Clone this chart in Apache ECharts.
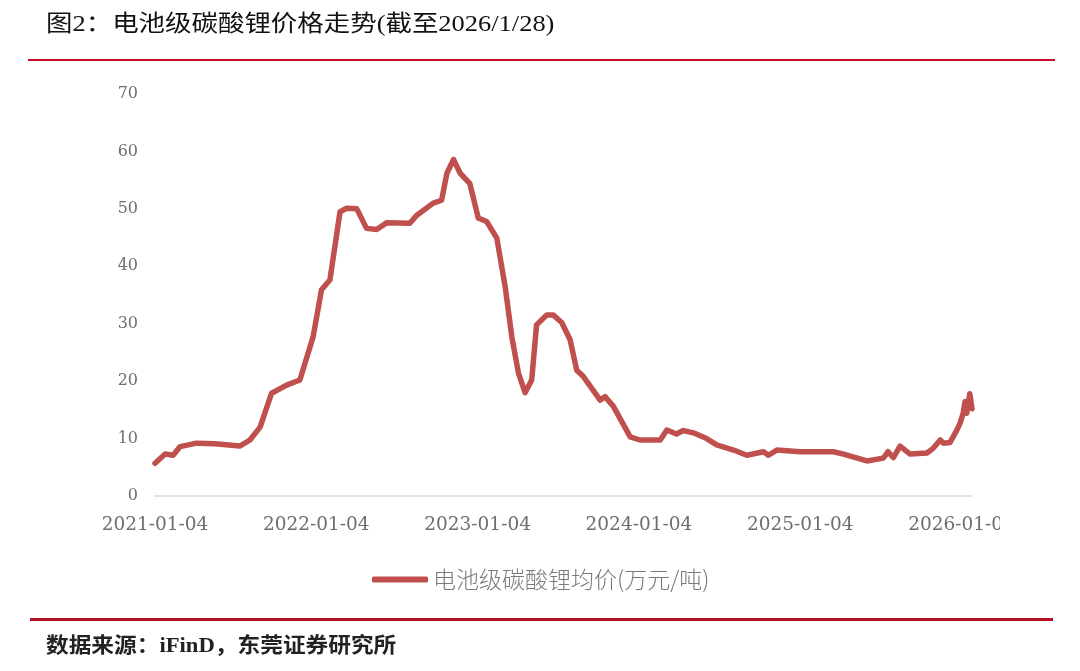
<!DOCTYPE html>
<html>
<head>
<meta charset="utf-8">
<script src="https://cdn.jsdelivr.net/npm/echarts@6/dist/echarts.min.js"></script>
<style>
  html, body { margin: 0; padding: 0; background: #fff; }
  body { width: 1080px; height: 671px; position: relative; overflow: hidden; }
  #chart { position: absolute; left: 0; top: 0; width: 1000px; height: 671px; }
  .title { position: absolute; left: 46px; top: 4px; font: 23px "Liberation Serif", "Noto Sans CJK SC"; color: #111;
           white-space: nowrap; transform-origin: 0 0; transform: scaleX(1.15); }
  .rule { position: absolute; height: 2px; background: #c8102e; }
  .source { position: absolute; left: 46px; top: 628px; font: bold 21px "Liberation Serif", "Noto Sans CJK SC"; color: #222;
            white-space: nowrap; transform-origin: 0 0; transform: scaleX(1.08); }
</style>
</head>
<body>
<div id="chart"></div>
<div class="title">图2：电池级碳酸锂价格走势(截至2026/1/28)</div>
<div class="rule" style="left:28px;width:1027px;top:59px;"></div>
<div class="rule" style="left:30px;width:1023px;top:618px;height:3px;background:#b01020;"></div>
<div class="source">数据来源：iFinD，东莞证券研究所</div>
<script>
  // 电池级碳酸锂均价(万元/吨)
  var dates = [
    '2021-01-04', '2021-01-27', '2021-02-14', '2021-03-02', '2021-04-08', '2021-05-20',
    '2021-07-15', '2021-08-07', '2021-08-30', '2021-09-25', '2021-10-29', '2021-11-28',
    '2021-12-28', '2022-01-16', '2022-02-04', '2022-02-27', '2022-03-14', '2022-04-06',
    '2022-04-28', '2022-05-21', '2022-06-13', '2022-08-04', '2022-08-20', '2022-09-26',
    '2022-10-15', '2022-10-27', '2022-11-11', '2022-11-26', '2022-12-18', '2023-01-06',
    '2023-01-25', '2023-02-17', '2023-03-08', '2023-03-23', '2023-04-07', '2023-04-22',
    '2023-05-07', '2023-05-18', '2023-06-10', '2023-06-25', '2023-07-14', '2023-08-02',
    '2023-08-17', '2023-09-01', '2023-10-09', '2023-10-20', '2023-11-08', '2023-12-16',
    '2024-01-07', '2024-02-22', '2024-03-08', '2024-03-30', '2024-04-14', '2024-05-07',
    '2024-06-06', '2024-06-29', '2024-08-06', '2024-09-05', '2024-10-13', '2024-10-24',
    '2024-11-12', '2025-01-04', '2025-03-20', '2025-04-12', '2025-06-04', '2025-07-11',
    '2025-07-22', '2025-08-03', '2025-08-18', '2025-09-10', '2025-10-18', '2025-11-01',
    '2025-11-17', '2025-11-24', '2025-12-09', '2025-12-25', '2026-01-01', '2026-01-08',
    '2026-01-12', '2026-01-16', '2026-01-23', '2026-01-28'
  ];
  var prices = [
    5.7, 7.3, 7.1, 8.6, 9.2, 9.1,
    8.7, 9.75, 12.0, 17.9, 19.3, 20.2,
    27.7, 35.9, 37.6, 49.5, 50.1, 50.0,
    46.6, 46.4, 47.6, 47.5, 48.9, 51.0,
    51.5, 56.2, 58.6, 56.2, 54.4, 48.4,
    47.8, 44.9, 36.4, 27.7, 21.4, 18.0,
    20.2, 29.8, 31.5, 31.5, 30.2, 27.2,
    21.9, 20.8, 16.7, 17.3, 15.6, 10.3,
    9.75, 9.75, 11.5, 10.8, 11.4, 11.0,
    10.0, 8.9, 8.0, 7.1, 7.7, 7.1,
    8.0, 7.7, 7.7, 7.3, 6.1, 6.6,
    7.7, 6.7, 8.7, 7.3, 7.5, 8.3,
    9.75, 9.2, 9.3, 11.5, 12.7, 14.4,
    16.4, 14.4, 17.8, 15.2
  ];
  var tickLabels = ['2021-01-04', '2022-01-04', '2023-01-04', '2024-01-04', '2025-01-04', '2026-01-04'];
  var seriesName = '电池级碳酸锂均价(万元/吨)';

  var DAY = 86400000;
  var t0 = Date.parse(dates[0] + 'T00:00:00Z');
  function dayOf(s) { return Math.round((Date.parse(s + 'T00:00:00Z') - t0) / DAY); }

  var seriesData = dates.map(function (d, i) { return [dayOf(d), prices[i]]; });

  var numFont = '"DejaVu Serif", "Liberation Serif"';
  var chart = echarts.init(document.getElementById('chart'));
  chart.setOption({
    animation: false,
    grid: { left: 155, right: 28, top: 94, bottom: 175, containLabel: false, outerBoundsMode: 'none' },
    legend: {
      data: [seriesName],
      left: 367,
      top: 563,
      icon: 'roundRect',
      itemWidth: 56,
      itemHeight: 6,
      itemGap: 10,
      textStyle: { fontFamily: '"Noto Sans CJK SC"', fontSize: 23, fontWeight: 300, color: '#7a7a7a' }
    },
    xAxis: {
      type: 'value',
      min: 0,
      max: 1850,
      interval: 365.25,
      splitLine: { show: false },
      axisTick: { show: false },
      axisLine: { show: true, lineStyle: { color: '#d9d9d9', width: 1.5 } },
      axisLabel: {
        margin: 20,
        fontFamily: numFont,
        fontSize: 18.5,
        color: '#6e6e6e',
        showMaxLabel: false,
        formatter: function (v) { return tickLabels[Math.round(v / 365.25)] || ''; }
      }
    },
    yAxis: {
      type: 'value',
      min: 0,
      max: 70,
      interval: 10,
      splitLine: { show: false },
      axisLine: { show: false },
      axisTick: { show: false },
      axisLabel: { margin: 17, fontFamily: numFont, fontSize: 16, color: '#6e6e6e' }
    },
    series: [{
      name: seriesName,
      type: 'line',
      data: seriesData,
      showSymbol: false,
      symbol: 'none',
      lineStyle: { color: '#c0504d', width: 5.5, join: 'round', cap: 'round' },
      itemStyle: { color: '#c0504d' }
    }]
  });
</script>
</body>
</html>
